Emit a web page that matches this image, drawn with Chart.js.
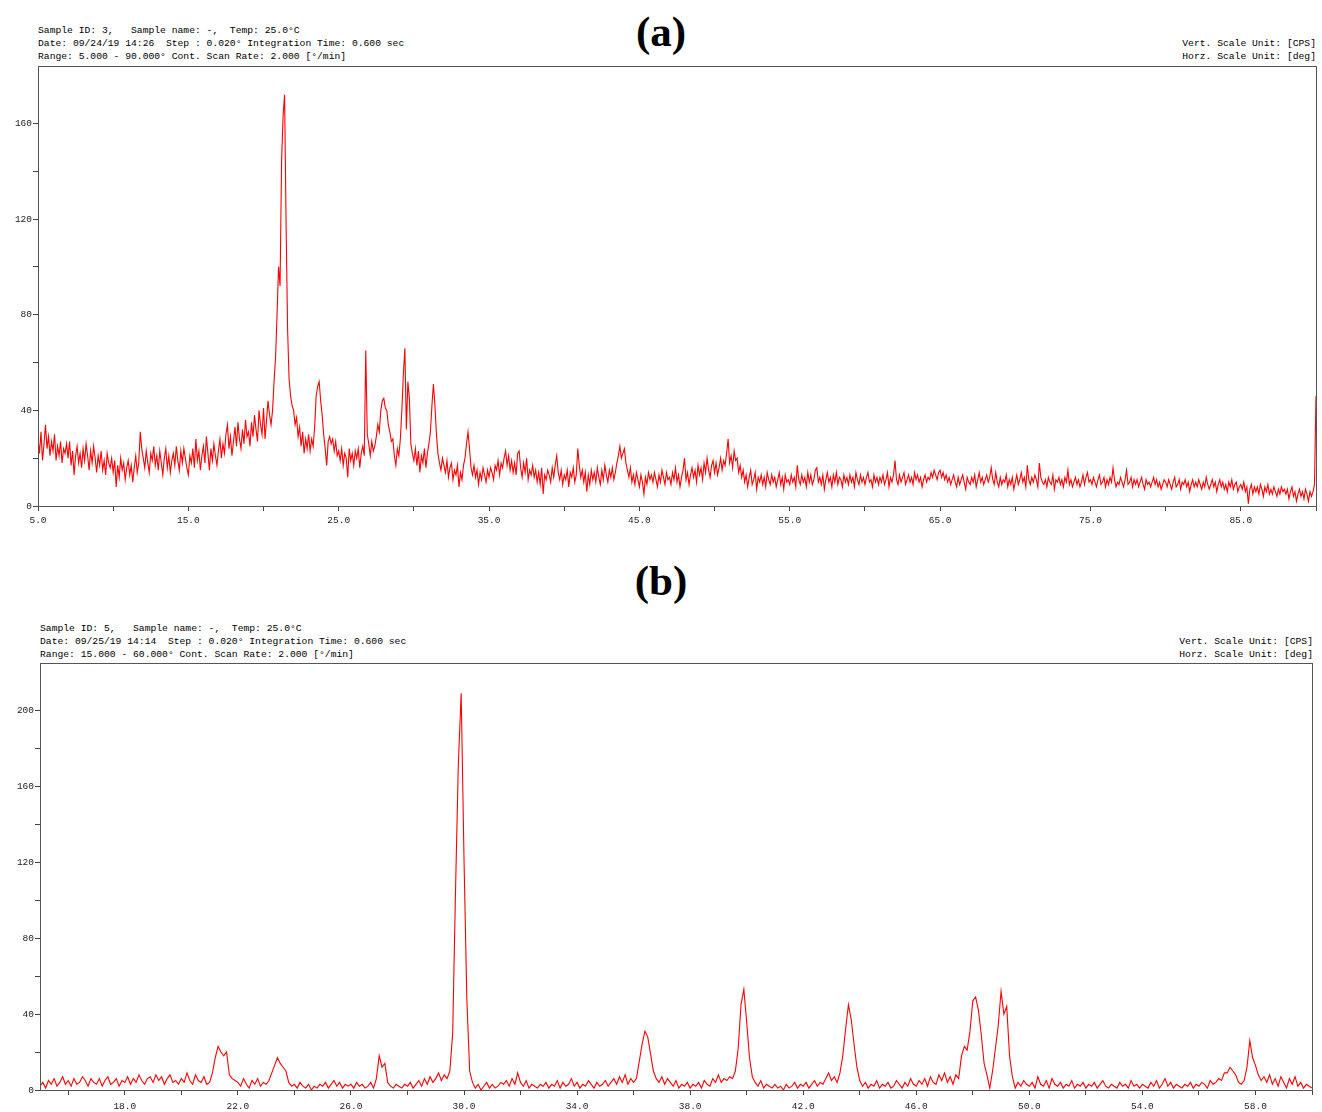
<!DOCTYPE html>
<html>
<head>
<meta charset="utf-8">
<title>XRD patterns</title>
<script src="https://cdn.jsdelivr.net/npm/chart.js@4.4.1/dist/chart.umd.min.js"></script>
<style>
  body { margin: 0; width: 1322px; height: 1112px; overflow: hidden; background: #fff; position: relative; }
  .hdr { position: absolute; font-family: "Liberation Mono", "Courier New", monospace; font-size: 9.7px; color: #000; white-space: pre; line-height: 13px; }
  .right { text-align: right; }
  .title { position: absolute; left: 0; width: 1322px; text-align: center; font-family: "Liberation Serif", "Times New Roman", serif; font-weight: bold; font-size: 43px; line-height: 43px; color: #000; }
  canvas { position: absolute; left: 0; }
</style>
</head>
<body>

<div class="title" style="top:10px;">(a)</div>
<div class="hdr" style="left:38px; top:24px;">Sample ID: 3,   Sample name: -,  Temp: 25.0°C
Date: 09/24/19 14:26  Step : 0.020° Integration Time: 0.600 sec
Range: 5.000 - 90.000° Cont. Scan Rate: 2.000 [°/min]</div>
<div class="hdr right" style="right:6px; top:37px;">Vert. Scale Unit: [CPS]
Horz. Scale Unit: [deg]</div>
<canvas id="chartA" width="1322" height="472" style="top:56px;"></canvas>

<div class="title" style="top:559px;">(b)</div>
<div class="hdr" style="left:40px; top:622px;">Sample ID: 5,   Sample name: -,  Temp: 25.0°C
Date: 09/25/19 14:14  Step : 0.020° Integration Time: 0.600 sec
Range: 15.000 - 60.000° Cont. Scan Rate: 2.000 [°/min]</div>
<div class="hdr right" style="right:9px; top:635px;">Vert. Scale Unit: [CPS]
Horz. Scale Unit: [deg]</div>
<canvas id="chartB" width="1322" height="459" style="top:653px;"></canvas>

<script>
/* ================= DATA ================= */

// pattern (a): 5.0 .. 90.0 deg, one value per 0.1 deg
const startA = 5.0;
const stepA = 0.1;
const countsA = [
  28, 22, 31, 19, 26, 34, 24, 29, 21, 27,
  23, 30, 19, 25, 21, 27, 18, 24, 22, 26,
  20, 27, 17, 23, 13, 21, 25, 18, 22, 16,
  24, 19, 26, 21, 15, 23, 18, 25, 20, 14,
  21, 17, 23, 15, 19, 13, 22, 18, 16, 20,
  14, 19, 8, 17, 12, 20, 15, 18, 11, 16,
  19, 13, 17, 10, 16, 21, 14, 18, 31, 24,
  20, 16, 23, 18, 14, 22, 19, 25, 17, 21,
  15, 23, 18, 13, 20, 24, 16, 21, 14, 19,
  22, 17, 25, 19, 15, 23, 18, 24, 20, 16,
  13, 21, 18, 24, 16, 28, 19, 23, 15, 21,
  25, 18, 29, 22, 15, 24, 19, 26, 21, 17,
  23, 28, 20, 26, 22, 30, 34, 24, 29, 21,
  27, 33, 25, 35, 28, 24, 32, 26, 36, 29,
  31, 25, 35, 29, 38, 32, 27, 40, 34, 30,
  41, 28, 36, 44, 38, 34, 40, 52, 62, 80,
  100, 92, 144, 163, 172, 118, 74, 53, 46, 42,
  40, 34, 37, 29, 33, 25, 31, 22, 28, 24,
  30, 23, 28, 25, 33, 46, 50, 52, 44, 38,
  30, 24, 17, 27, 29, 26, 28, 23, 27, 21,
  23, 19, 24, 17, 22, 20, 12, 24, 19, 22,
  17, 23, 20, 24, 16, 22, 25, 21, 65, 30,
  26, 21, 27, 23, 25, 29, 34, 31, 40, 44,
  45, 41, 40, 34, 31, 27, 28, 21, 17, 24,
  21, 28, 40, 55, 66, 32, 52, 45, 26, 22,
  19, 24, 17, 23, 14, 21, 18, 24, 16, 22,
  26, 31, 42, 51, 42, 30, 22, 18, 15, 20,
  17, 14, 19, 12, 16, 18, 11, 15, 13, 17,
  8, 14, 11, 17, 20, 26, 31, 24, 16, 13,
  17, 12, 15, 9, 14, 11, 16, 13, 10, 15,
  12, 16, 14, 11, 17, 15, 19, 13, 18, 16,
  20, 23, 17, 21, 15, 19, 14, 18, 13, 22,
  23, 16, 12, 18, 14, 20, 11, 15, 13, 17,
  12, 15, 10, 14, 9, 16, 5, 13, 11, 15,
  13, 10, 16, 12, 17, 21, 14, 11, 15, 9,
  13, 11, 15, 8, 14, 12, 16, 10, 13, 24,
  17, 12, 15, 10, 14, 6, 13, 9, 15, 11,
  14, 10, 16, 12, 9, 15, 11, 17, 13, 10,
  15, 12, 16, 11, 14, 18, 21, 25, 20, 22,
  24, 18, 15, 12, 16, 10, 13, 9, 14, 11,
  8, 13, 10, 5, 12, 9, 14, 11, 13, 10,
  14, 11, 8, 13, 10, 15, 12, 9, 14, 11,
  12, 9, 14, 11, 16, 10, 13, 8, 12, 15,
  20, 11, 14, 9, 13, 16, 12, 15, 10, 17,
  13, 16, 11, 18, 14, 20, 15, 12, 17, 19,
  14, 18, 13, 16, 20, 15, 19, 17, 22, 28,
  18, 21, 16, 23, 19, 20, 14, 17, 12, 15,
  10, 13, 8, 12, 15, 9, 11, 14, 7, 12,
  10, 13, 9, 12, 8, 14, 11, 9, 13, 10,
  12, 8, 11, 14, 9, 12, 7, 13, 10, 11,
  9, 13, 10, 12, 8, 17, 11, 9, 13, 10,
  12, 8, 14, 10, 13, 9, 11, 15, 16, 10,
  12, 9, 13, 7, 11, 14, 10, 12, 8, 13,
  10, 14, 9, 12, 11, 8, 13, 10, 12, 9,
  13, 10, 12, 8, 14, 11, 9, 13, 10, 12,
  9, 12, 14, 10, 11, 8, 13, 10, 12, 9,
  12, 10, 13, 9, 11, 14, 8, 12, 10, 13,
  19, 11, 9, 13, 10, 12, 14, 9, 11, 13,
  10, 12, 9, 14, 11, 13, 10, 12, 8, 11,
  13, 10, 12, 11, 14, 12, 15, 13, 11, 14,
  15, 12, 14, 11, 13, 10, 12, 9, 11, 13,
  10, 8, 12, 9, 11, 13, 10, 7, 12, 10,
  9, 12, 10, 13, 8, 11, 14, 10, 12, 9,
  11, 13, 10, 12, 16, 11, 9, 14, 10, 8,
  12, 9, 11, 10, 13, 8, 11, 9, 12, 7,
  10, 13, 9, 11, 14, 10, 12, 8, 17, 11,
  9, 12, 10, 13, 11, 8, 18, 12, 10, 9,
  11, 8, 12, 10, 9, 13, 7, 11, 10, 12,
  9, 11, 8, 12, 10, 15, 9, 11, 8, 10,
  12, 9, 11, 8, 10, 13, 9, 12, 14, 10,
  11, 9, 12, 10, 8, 11, 13, 9, 10, 12,
  8, 11, 9, 12, 10, 16, 11, 8, 10, 9,
  12, 10, 8, 11, 15, 9, 10, 12, 8, 11,
  9, 11, 8, 10, 12, 9, 7, 11, 9, 10,
  8, 10, 12, 9, 11, 8, 10, 7, 9, 11,
  10, 8, 11, 9, 7, 10, 12, 8, 9, 11,
  7, 10, 9, 11, 8, 10, 6, 9, 11, 8,
  10, 8, 11, 9, 7, 10, 8, 12, 9, 7,
  9, 11, 8, 10, 6, 9, 11, 8, 10, 7,
  9, 6, 10, 8, 11, 7, 9, 10, 6, 8,
  9, 7, 10, 6, 8, 1, 7, 9, 5, 8,
  6, 8, 5, 9, 7, 4, 8, 6, 9, 5,
  7, 5, 8, 6, 4, 7, 5, 8, 6, 7,
  5, 7, 3, 6, 8, 4, 6, 2, 5, 7,
  4, 6, 3, 7, 5, 2, 6, 4, 6, 9,
  46
];

// pattern (b): 15.0 .. 60.0 deg, one value per 0.1 deg
const startB = 15.0;
const stepB = 0.1;
const countsB = [
  2, 4, 1, 5, 3, 6, 2, 4, 7, 3,
  5, 2, 6, 3, 4, 7, 5, 2, 6, 4,
  3, 6, 2, 5, 7, 3, 4, 6, 2, 5,
  4, 7, 3, 6, 4, 8, 5, 3, 6, 7,
  4, 8, 5, 7, 3, 6, 8, 4, 5, 3,
  6, 4, 9, 5, 3, 8, 5, 4, 7, 3,
  4, 9, 17, 23, 20, 18, 20, 8, 6, 5,
  4, 2, 6, 3, 1, 5, 3, 6, 2, 4,
  3, 5, 9, 13, 17, 14, 12, 10, 4, 2,
  3, 1, 4, 2, 1, 3, 0, 2, 1, 3,
  2, 4, 1, 3, 5, 2, 4, 1, 3, 2,
  3, 1, 4, 2, 3, 1, 2, 4, 1, 6,
  18, 12, 14, 4, 2, 1, 3, 2, 1, 3,
  2, 4, 1, 3, 5, 2, 6, 3, 7, 4,
  6, 9, 5, 8, 6, 10, 30, 105, 172, 209,
  122, 48, 10, 4, 1, 3, 0, 2, 4, 1,
  3, 1, 2, 4, 3, 5, 2, 6, 3, 9,
  4, 2, 5, 1, 3, 2, 1, 3, 2, 4,
  1, 3, 2, 5, 1, 4, 2, 3, 6, 2,
  4, 1, 3, 2, 5, 3, 1, 4, 2, 3,
  5, 2, 4, 6, 3, 7, 4, 8, 3, 6,
  4, 6, 15, 24, 31, 28, 19, 10, 6, 4,
  7, 3, 6, 4, 2, 5, 1, 3, 2, 4,
  1, 3, 2, 4, 1, 5, 3, 2, 6, 4,
  8, 4, 6, 5, 7, 6, 10, 22, 45, 53,
  36, 17, 7, 4, 2, 5, 1, 3, 2, 1,
  3, 1, 2, 0, 3, 1, 2, 4, 1, 3,
  2, 4, 1, 3, 5, 2, 4, 3, 6, 9,
  5, 7, 4, 9, 18, 32, 45, 37, 24, 12,
  5, 2, 4, 1, 3, 2, 5, 1, 3, 2,
  4, 1, 2, 5, 3, 1, 4, 2, 6, 3,
  2, 5, 3, 6, 2, 7, 4, 3, 8, 5,
  9, 4, 7, 3, 8, 6, 18, 23, 21, 31,
  47, 49, 42, 29, 14, 8, 1, 10, 22, 34,
  52, 40, 44, 18, 7, 1, 4, 2, 5, 3,
  2, 4, 1, 7, 3, 2, 5, 1, 6, 3,
  2, 4, 1, 3, 2, 5, 1, 3, 2, 4,
  1, 3, 2, 4, 1, 3, 5, 2, 1, 3,
  2, 1, 4, 2, 3, 1, 5, 2, 3, 1,
  3, 2, 1, 4, 2, 5, 1, 3, 6, 2,
  4, 1, 3, 2, 1, 3, 2, 4, 1, 3,
  2, 4, 3, 1, 5, 3, 4, 6, 5, 9,
  9, 12, 10, 8, 4, 3, 5, 12, 26, 17,
  13, 8, 5, 7, 4, 8, 3, 6, 2, 7,
  4, 1, 6, 3, 7, 2, 4, 1, 3, 2,
  1
];

// axis ranges
const xRangeA = [5, 90];
const yRangeA = [0, 184];
const xRangeB = [15, 60];
const yRangeB = [0, 225];

/* ================= HELPERS ================= */

const monoFont = { family: "'Liberation Mono', 'Courier New', monospace", size: 9.5 };
const axisColor = "#444";

const toPoints = (start, step, counts) =>
  counts.map((c, i) => ({ x: Math.round((start + i * step) * 100) / 100, y: c }));

// box round the plot area, like the instrument software draws it
const framePlugin = {
  id: "frame",
  afterDraw(chart) {
    const { ctx, chartArea: a } = chart;
    ctx.save();
    ctx.strokeStyle = "#555";
    ctx.lineWidth = 1;
    ctx.strokeRect(Math.round(a.left) + 0.5, Math.round(a.top) + 0.5,
      Math.round(a.right - a.left), Math.round(a.bottom - a.top));
    ctx.restore();
  }
};

function makeXrdChart(canvasId, points, opts) {
  return new Chart(document.getElementById(canvasId), {
    type: "line",
    data: {
      datasets: [{
        data: points,
        borderColor: "#ff0000",
        borderWidth: 1.1,
        pointRadius: 0,
        tension: 0
      }]
    },
    options: {
      responsive: false,
      animation: false,
      layout: { padding: { top: 10, right: opts.padRight, left: 0, bottom: 0 } },
      plugins: { legend: { display: false }, tooltip: { enabled: false } },
      scales: {
        x: {
          type: "linear",
          min: opts.xRange[0],
          max: opts.xRange[1],
          afterFit: (scale) => { scale.height = 22; },
          afterBuildTicks: (scale) => {
            scale.ticks = scale.ticks.filter(t => Math.abs(t.value % opts.xStep) < 1e-6);
          },
          border: { display: true, color: axisColor, width: 1 },
          grid: { drawOnChartArea: false, drawTicks: true, tickLength: 5, color: axisColor },
          ticks: {
            stepSize: opts.xStep,
            autoSkip: false,
            maxRotation: 0,
            padding: opts.xPad,
            color: "#222",
            font: monoFont,
            callback: (v) => opts.xLabel(v) ? v.toFixed(1) : ""
          }
        },
        y: {
          min: opts.yRange[0],
          max: opts.yRange[1],
          afterFit: (scale) => { scale.width = opts.left; },
          afterBuildTicks: (scale) => {
            scale.ticks = scale.ticks.filter(t => t.value % 20 === 0);
          },
          border: { display: true, color: axisColor, width: 1 },
          grid: { drawOnChartArea: false, drawTicks: true, tickLength: 5, color: axisColor },
          ticks: {
            stepSize: 20,
            autoSkip: false,
            padding: 1,
            color: "#222",
            font: monoFont,
            callback: (v) => v % 40 === 0 ? String(v) : ""
          }
        }
      }
    },
    plugins: [framePlugin]
  });
}

/* ================= CHARTS ================= */

makeXrdChart("chartA", toPoints(startA, stepA, countsA), {
  xRange: xRangeA,
  yRange: yRangeA,
  xStep: 5,
  xLabel: (v) => (v - 5) % 10 === 0,
  xPad: 4,
  left: 38,
  padRight: 6
});

makeXrdChart("chartB", toPoints(startB, stepB, countsB), {
  xRange: xRangeB,
  yRange: yRangeB,
  xStep: 2,
  xLabel: (v) => (v - 18) % 4 === 0,
  xPad: 6,
  left: 40,
  padRight: 10
});
</script>
</body>
</html>
